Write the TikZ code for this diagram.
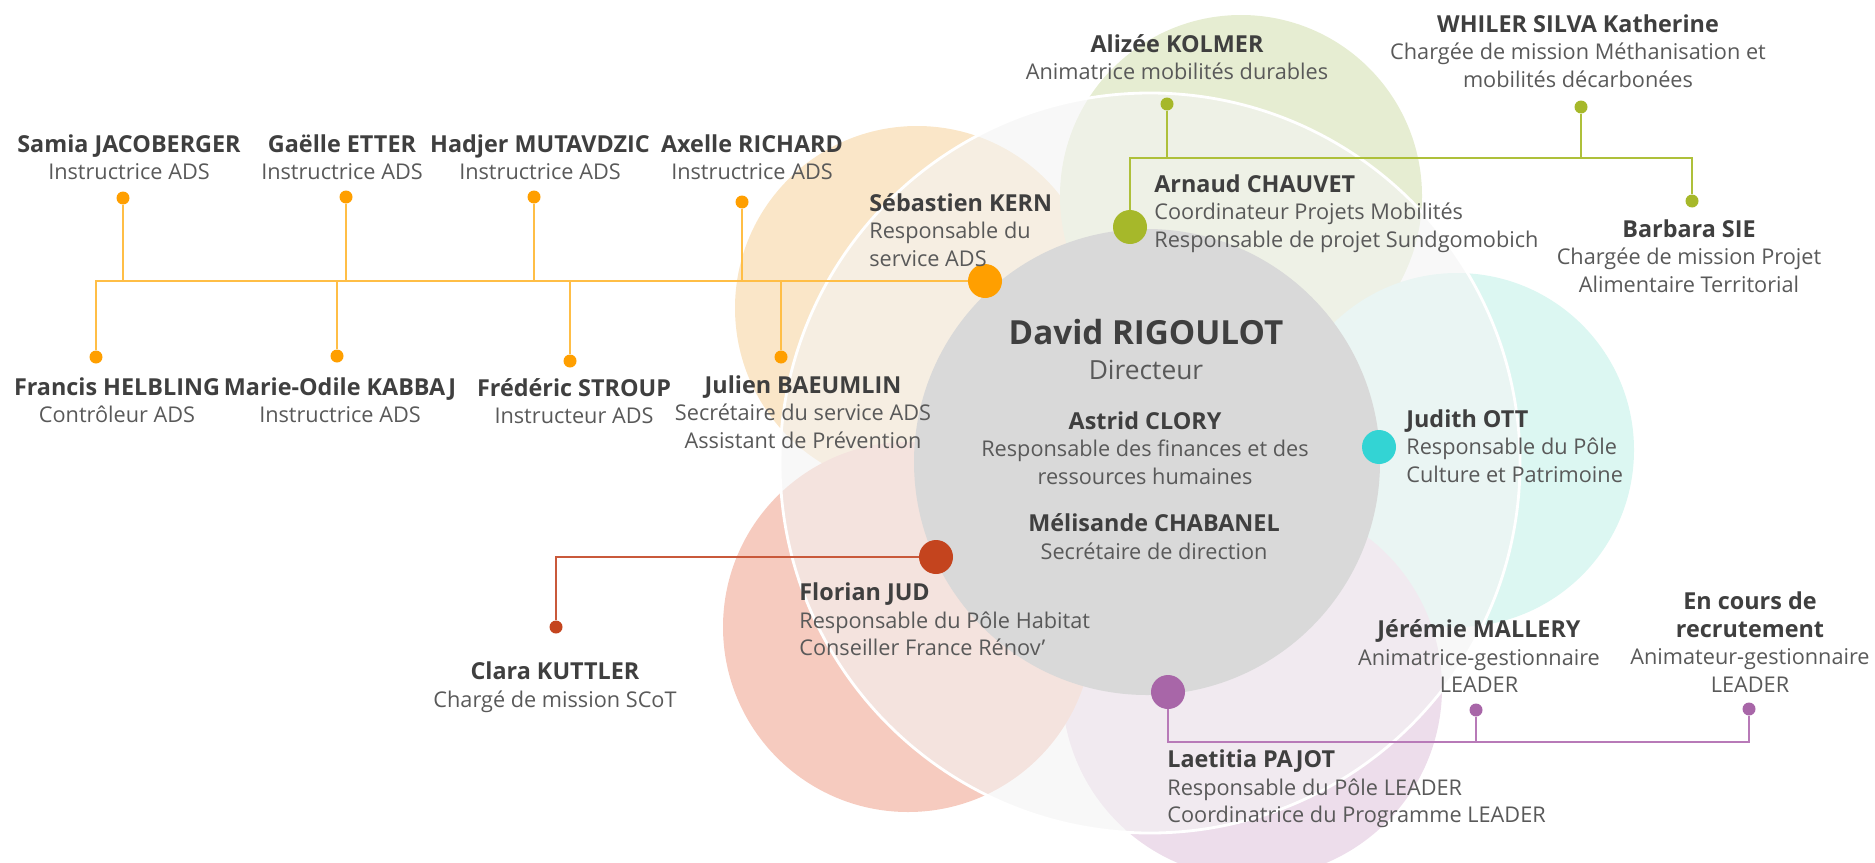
\documentclass[tikz,border=0pt]{standalone}
\usepackage{fontspec}
\setmainfont{Open Sans}
\usetikzlibrary{positioning}

\definecolor{namegrey}{HTML}{3F3F3F}
\definecolor{subgrey}{HTML}{595959}
\definecolor{peach}{HTML}{FAE6C8}
\definecolor{pgreen}{HTML}{E6EDD2}
\definecolor{pcyan}{HTML}{DCF7F2}
\definecolor{ppurple}{HTML}{EDDDEB}
\definecolor{psalmon}{HTML}{F6CBBF}
\definecolor{ring}{HTML}{F4F4F4}
\definecolor{core}{HTML}{D9D9D9}
\definecolor{dorange}{HTML}{FF9F00}
\definecolor{dgreen}{HTML}{A6B82A}
\definecolor{dcyan}{HTML}{33D4D4}
\definecolor{dred}{HTML}{C4441E}
\definecolor{dpurple}{HTML}{A866A8}
\definecolor{lorange}{HTML}{FFBE46}
\definecolor{lgreen}{HTML}{AEC03A}
\definecolor{lred}{HTML}{C9593B}
\definecolor{lpurple}{HTML}{B87AB8}

% name line, with a strut so that the top of every text block is the same
\newcommand{\nm}[1]{{\fontsize{13.3}{15.9}\selectfont\bfseries\color{namegrey}\rule{0pt}{11.5pt}#1}}

\tikzset{
  who/.style={align=center, anchor=north, inner sep=0pt, text=subgrey,
    font=\fontsize{12.35}{15.9}\selectfont},
  whol/.style={who, align=left, anchor=north west},
  bigdot/.style={circle, inner sep=0pt, minimum size=0.68cm},
  smalldot/.style={circle, inner sep=0pt, minimum size=0.26cm},
  link/.style={line width=1.1pt},
}

\begin{document}
\begin{tikzpicture}[x=0.02cm, y=0.02cm, yscale=-1]
  \useasboundingbox (0,0) rectangle (1875,862);
  % Petals
  \fill[peach] (917,308) circle[radius=182];
  \fill[pgreen] (1241,196) circle[radius=181];
  \fill[pcyan] (1457,450) circle[radius=177];
  \fill[ppurple] (1252,688) circle[radius=190];
  \fill[psalmon] (908,627) circle[radius=185];
  % Ring and core
  \fill[ring, fill opacity=0.6] (1150,463) circle[radius=370];
  \draw[white, line width=1.6pt] (1150,463) circle[radius=370];
  \fill[core] (1147,462) circle[radius=233];

  % Dots
  \node[bigdot, fill=dorange] (kern) at (985,281) {};
  \foreach \p/\x/\y in {samia/123/198, gaelle/346/197, hadjer/534/197, axelle/742/202,
      francis/96/357, marie/337/356, stroup/570/361, julien/781/357}
    \node[smalldot, fill=dorange] (\p) at (\x,\y) {};
  \node[bigdot, fill=dgreen] (chauvet) at (1130,227) {};
  \node[smalldot, fill=dgreen] (kolmer) at (1167,104) {};
  \node[smalldot, fill=dgreen] (whiler) at (1581,107) {};
  \node[smalldot, fill=dgreen] (sie) at (1692,201) {};
  \node[bigdot, fill=dcyan] (ott) at (1379,447) {};
  \node[bigdot, fill=dred] (jud) at (936,557) {};
  \node[smalldot, fill=dred] (kuttler) at (556,627) {};
  \node[bigdot, fill=dpurple] (pajot) at (1168,692) {};
  \node[smalldot, fill=dpurple] (mallery) at (1476,710) {};
  \node[smalldot, fill=dpurple] (recrut) at (1749,709) {};

  % Links
  \draw[link, lorange] (francis) |- (kern);
  \foreach \p in {samia, gaelle, hadjer, axelle, marie, stroup, julien}
    \draw[link, lorange] (\p) -- (\p |- kern);
  \coordinate (gbar) at (1692,158);
  \draw[link, lgreen] (chauvet) |- (gbar) -- (sie);
  \draw[link, lgreen] (kolmer) -- (kolmer |- gbar);
  \draw[link, lgreen] (whiler) -- (whiler |- gbar);
  \draw[link, lred] (jud) -| (kuttler);
  \coordinate (pbar) at (1749,742);
  \draw[link, lpurple] (pajot) |- (pbar) -- (recrut);
  \draw[link, lpurple] (mallery) -- (mallery |- pbar);

  % Service ADS
  \node[who] (tsamia) at (129,131.5) {\nm{Samia JACOBERGER}\\Instructrice ADS};
  \node[who] (tgaelle) at (342,131.5) {\nm{Gaëlle ETTER}\\Instructrice ADS};
  \node[who] (thadjer) at (540,131.5) {\nm{Hadjer MUTAVDZIC}\\Instructrice ADS};
  \node[who] (taxelle) at (752,131.5) {\nm{Axelle RICHARD}\\Instructrice ADS};
  \node[who] (tfrancis) at (117,374.5) {\nm{Francis HELBLING}\\Contrôleur ADS};
  \node[who] (tmarie) at (340,374.5) {\nm{Marie-Odile KABBAJ}\\Instructrice ADS};
  \node[who] (tstroup) at (574,375.5) {\nm{Frédéric STROUP}\\Instructeur ADS};
  \node[who] (tjulien) at (803,372.5) {\nm{Julien BAEUMLIN}\\Secrétaire du service ADS\\Assistant de Prévention};
  \node[whol] (tkern) at (869,190.5) {\nm{Sébastien KERN}\\Responsable du\\service ADS};

  % Mobilites
  \node[who] (tkolmer) at (1177,31.5) {\nm{Alizée KOLMER}\\Animatrice mobilités durables};
  \node[who] (twhiler) at (1578,11.5) {\nm{WHILER SILVA Katherine}\\Chargée de mission Méthanisation et\\mobilités décarbonées};
  \node[whol] (tchauvet) at (1154,171.5) {\nm{Arnaud CHAUVET}\\Coordinateur Projets Mobilités\\Responsable de projet Sundgomobich};
  \node[who] (tsie) at (1689,216.5) {\nm{Barbara SIE}\\Chargée de mission Projet\\Alimentaire Territorial};

  % Direction
  \node[anchor=base, inner sep=0pt, font=\fontsize{18.9}{22}\selectfont\bfseries, text=namegrey]
    (trigoulot) at (1146,344) {David RIGOULOT};
  \node[anchor=base, inner sep=0pt, font=\fontsize{15}{18}\selectfont, text=subgrey]
    (tdirecteur) at (1146,379) {Directeur};
  \node[who] (tclory) at (1145,408.5) {\nm{Astrid CLORY}\\Responsable des finances et des\\ressources humaines};
  \node[who] (tchabanel) at (1154,510.5) {\nm{Mélisande CHABANEL}\\Secrétaire de direction};

  % Culture, Habitat, LEADER
  \node[whol] (tott) at (1406,406.5) {\nm{Judith OTT}\\Responsable du Pôle\\Culture et Patrimoine};
  \node[whol] (tjud) at (799,579.5) {\nm{Florian JUD}\\Responsable du Pôle Habitat\\Conseiller France Rénov’};
  \node[who] (tkuttler) at (555,658.5) {\nm{Clara KUTTLER}\\Chargé de mission SCoT};
  \node[whol] (tpajot) at (1167,746.5) {\nm{Laetitia PAJOT}\\Responsable du Pôle LEADER\\Coordinatrice du Programme LEADER};
  \node[who] (tmallery) at (1479,616.5) {\nm{Jérémie MALLERY}\\Animatrice-gestionnaire\\LEADER};
  \node[who] (trecrut) at (1750,588.5) {\nm{En cours de}\\\nm{recrutement}\\Animateur-gestionnaire\\LEADER};
\end{tikzpicture}
\end{document}
